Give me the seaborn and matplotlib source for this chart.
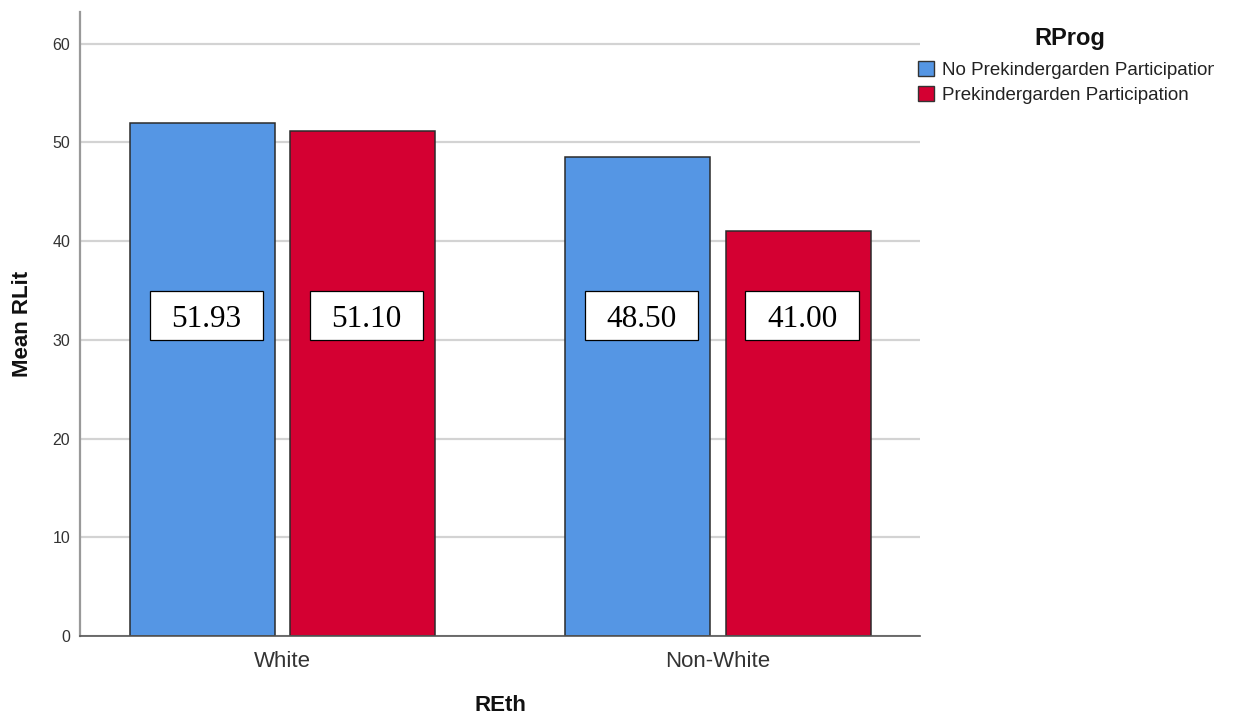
import matplotlib
matplotlib.use("Agg")
import matplotlib.pyplot as plt
from matplotlib.patches import Rectangle
from matplotlib.transforms import Bbox, TransformedBbox, IdentityTransform
import seaborn as sns
import pandas as pd

# Mean RLit by ethnicity and prekindergarten programme
ethnicity = ["White", "White", "Non-White", "Non-White"]
programme = ["No Prekindergarden Participation", "Prekindergarden Participation",
             "No Prekindergarden Participation", "Prekindergarden Participation"]
mean_rlit = [51.93, 51.10, 48.50, 41.00]

eth_order = ["White", "Non-White"]
prog_order = ["No Prekindergarden Participation", "Prekindergarden Participation"]
yticks = [0, 10, 20, 30, 40, 50, 60]

df = pd.DataFrame({"REth": ethnicity, "RProg": programme, "RLit": mean_rlit})

sns.set_theme(style="white")
plt.rcParams["font.family"] = ["Liberation Sans", "DejaVu Sans"]

W, H = 1233, 717
fig = plt.figure(figsize=(W / 100, H / 100), dpi=100)
ax = fig.add_axes([80 / W, (H - 636) / H, 840 / W, 624 / H])

palette = {prog_order[0]: "#5596E4", prog_order[1]: "#D40032"}
sns.barplot(data=df, x="REth", y="RLit", hue="RProg", order=eth_order,
            hue_order=prog_order, palette=palette, errorbar=None,
            width=0.737, gap=0.097, edgecolor="#2b2b2b", linewidth=1.1,
            saturation=1, ax=ax, zorder=2)

ax.set_xlim(-0.465, 1.464)
ax.set_ylim(0, 63.2)
ax.set_yticks(yticks)
ax.set_yticklabels([str(v) for v in yticks])
ax.yaxis.grid(True, color="#d3d3d3", linewidth=1.6, zorder=0)
ax.xaxis.grid(False)
ax.set_axisbelow(True)

for side in ("top", "right"):
    ax.spines[side].set_visible(False)
ax.spines["left"].set_color("#999999")
ax.spines["left"].set_linewidth(1.6)
ax.spines["bottom"].set_color("#555555")
ax.spines["bottom"].set_linewidth(1.2)

ax.tick_params(axis="y", length=0, pad=7, labelsize=11.5, labelcolor="#333333")
ax.tick_params(axis="x", length=0, pad=11, labelsize=16, labelcolor="#333333")

ax.set_xlabel("REth", fontsize=16, fontweight="bold", color="#111111", va="center")
ax.xaxis.set_label_coords(0.5, -0.111)
ax.set_ylabel("Mean RLit", fontsize=16, fontweight="bold", color="#111111", va="center")
ax.yaxis.set_label_coords(-0.069, 0.5)

# Value labels in boxed white tags
label_y = 32.5
box_w, box_h = 0.26, 4.96
for container in ax.containers:
    for bar in container:
        cx = bar.get_x() + bar.get_width() / 2
        val = bar.get_height()
        ax.add_patch(Rectangle((cx - box_w / 2 + 0.009, label_y - box_h / 2), box_w, box_h,
                               facecolor="white", edgecolor="black", linewidth=0.9, zorder=4))
        ax.text(cx + 0.009, label_y - 0.45, f"{val:.2f}", ha="center", va="center",
                fontsize=22.5, family=["Liberation Serif", "DejaVu Serif"],
                color="black", zorder=5)

# Legend: entries plus a centred bold title above them
handles, labels = ax.get_legend_handles_labels()
if ax.legend_:
    ax.legend_.remove()
leg = fig.legend(handles, labels, loc="upper left",
                 bbox_to_anchor=(918 / W, 1 - 61 / H), frameon=False,
                 fontsize=13.5, handlelength=0.85, handleheight=0.85,
                 handletextpad=0.45, labelspacing=0.4, borderpad=0, borderaxespad=0)
for patch in leg.get_patches():
    patch.set_edgecolor("#333333")
    patch.set_linewidth(1.0)
for t in leg.get_texts():
    t.set_color("#222222")

fig.text(1070 / W, 1 - 38 / H, "RProg", ha="center", va="center",
         fontsize=17, fontweight="bold", color="#111111")

fig.canvas.draw()
first = leg.get_texts()[0]
ext = first.get_window_extent()
right_edge = min(ext.x1 - 4, 1218)
first.set_clip_box(TransformedBbox(Bbox([[0, 0], [right_edge, H]]), IdentityTransform()))
first.set_clip_on(True)

fig.savefig("out.png", dpi=100)
